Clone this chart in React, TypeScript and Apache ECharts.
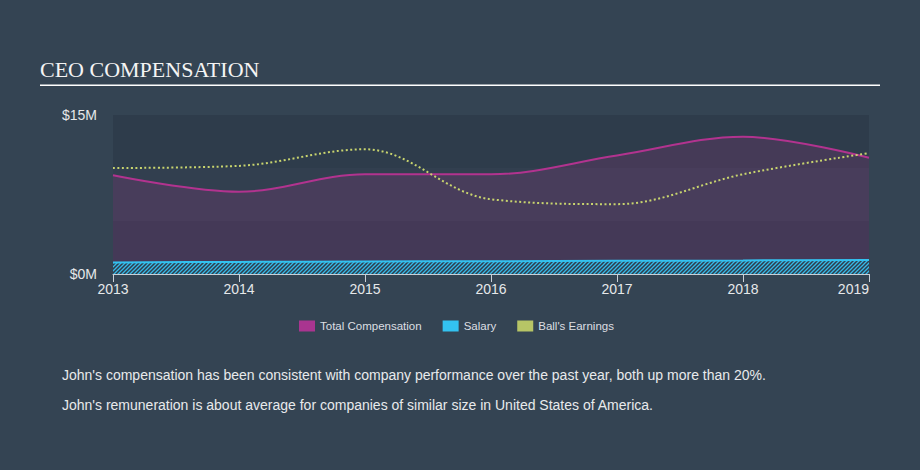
import React, { useEffect, useRef } from "react";
import * as echarts from "echarts";

const years = [2013, 2014, 2015, 2016, 2017, 2018, 2019];
const totalCompensation = [9.32, 7.76, 9.41, 9.41, 11.18, 12.95, 10.97];
const salary = [1.09, 1.14, 1.18, 1.21, 1.24, 1.28, 1.33];
const earnings = [10.0, 10.2, 11.77, 7.05, 6.59, 9.41, 11.4];
const yTickLabels = ["$0M", "$15M"];
const legendNames = ["Total Compensation", "Salary", "Ball's Earnings"];
const titleText = "CEO COMPENSATION";
const notes = [
  "John's compensation has been consistent with company performance over the past year, both up more than 20%.",
  "John's remuneration is about average for companies of similar size in United States of America.",
];

const BG = "#344453";
const PLOT = "#2f3d4c";

function makeHatch() {
  const c = document.createElement("canvas");
  c.width = 4;
  c.height = 4;
  const ctx = c.getContext("2d")!;
  ctx.fillStyle = PLOT;
  ctx.fillRect(0, 0, 4, 4);
  ctx.strokeStyle = "#36b9e8";
  ctx.lineWidth = 1.3;
  ctx.beginPath();
  ctx.moveTo(-1, 5);
  ctx.lineTo(5, -1);
  ctx.moveTo(-3, 3);
  ctx.lineTo(3, -3);
  ctx.moveTo(1, 7);
  ctx.lineTo(7, 1);
  ctx.stroke();
  return c;
}

export default function App() {
  const ref = useRef<HTMLDivElement>(null);
  useEffect(() => {
    document.body.style.margin = "0";
    document.body.style.background = BG;
    const chart = echarts.init(ref.current!, null, { renderer: "svg" });
    const hatch = makeHatch();
    const pair = (arr: number[]) => years.map((y, i) => [y, arr[i]]);
    chart.setOption({
      animation: false,
      backgroundColor: BG,
      textStyle: { fontFamily: "Liberation Sans, Arial, sans-serif" },
      grid: { left: 113, right: 51, top: 115, bottom: 196, containLabel: false },
      legend: {
        left: 294,
        top: 315,
        icon: "rect",
        itemWidth: 16,
        itemHeight: 11,
        itemGap: 21,
        data: legendNames,
        textStyle: { color: "#dcdfe2", fontSize: 11.5, fontFamily: "Liberation Sans, Arial, sans-serif" },
        itemStyle: { borderWidth: 0 },
        lineStyle: { width: 0 },
      },
      xAxis: {
        type: "value",
        min: 2013,
        max: 2019,
        interval: 1,
        axisLine: { show: true, lineStyle: { color: "#c9cfd6", width: 1 } },
        axisTick: { show: true, length: 8, lineStyle: { color: "#c9cfd6" } },
        axisLabel: {
          color: "#e6e8ea",
          fontSize: 14,
          margin: 8,
          alignMaxLabel: "right",
          formatter: (v: number) => String(v),
        },
        splitLine: { show: false },
      },
      yAxis: {
        type: "value",
        min: 0,
        max: 15,
        interval: 5,
        axisLine: { show: false },
        axisTick: { show: false },
        axisLabel: {
          color: "#e6e8ea",
          fontSize: 14,
          margin: 16,
          formatter: (v: number) => (v === 0 ? yTickLabels[0] : v === 15 ? yTickLabels[1] : ""),
        },
        splitLine: { show: false },
        splitArea: { show: true, areaStyle: { color: ["#2d3b4a", "#323f4f", "#2e3c4b"] } },
      },
      graphic: [
        {
          type: "text",
          left: 40,
          top: 58,
          style: { text: titleText, fill: "#f4f4f4", font: "22px 'Liberation Serif', 'Times New Roman', serif" },
        },
        { type: "rect", shape: { x: 40, y: 84.5, width: 840, height: 1.5 }, style: { fill: "#ffffff" } },
        {
          type: "text",
          left: 62,
          top: 368,
          style: { text: notes[0], fill: "#e8eaec", font: "14px 'Liberation Sans', Arial, sans-serif" },
        },
        {
          type: "text",
          left: 62,
          top: 398,
          style: { text: notes[1], fill: "#e8eaec", font: "14px 'Liberation Sans', Arial, sans-serif" },
        },
      ],
      series: [
        {
          name: legendNames[0],
          type: "line",
          data: pair(totalCompensation),
          smooth: 0.35,
          showSymbol: false,
          color: "#a93590",
          lineStyle: { color: "#b2338f", width: 2 },
          areaStyle: { color: "rgba(170,52,144,0.27)", origin: "start" },
          z: 2,
        },
        {
          name: legendNames[1],
          type: "line",
          data: pair(salary),
          smooth: 0.35,
          showSymbol: false,
          color: "#33c2f0",
          lineStyle: { color: "#33c2f0", width: 2 },
          areaStyle: {
            color: { image: hatch, repeat: "repeat", imageWidth: 4, imageHeight: 4 },
            opacity: 1,
            origin: "start",
          },
          z: 3,
        },
        {
          name: legendNames[2],
          type: "line",
          data: pair(earnings),
          smooth: 0.35,
          showSymbol: false,
          color: "#b7c566",
          lineStyle: { color: "#c8d46e", width: 2, type: [2, 2.5] },
          z: 4,
        },
      ],
    });
    return () => chart.dispose();
  }, []);
  return <div ref={ref} style={{ width: 920, height: 470 }} />;
}
